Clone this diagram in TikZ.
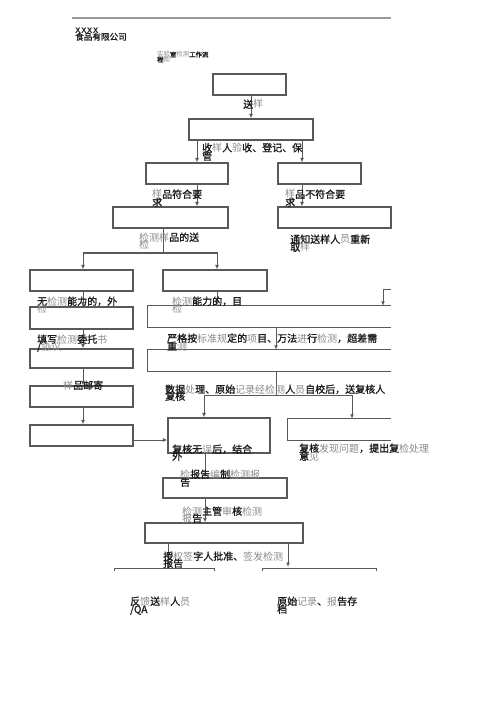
\documentclass[tikz,border=0pt]{standalone}
\usepackage{fontspec}
\newfontfamily\cjk{Noto Sans CJK SC}[AutoFakeBold=1.2]
\usetikzlibrary{arrows.meta,fit}
\definecolor{lc}{HTML}{595959}
\definecolor{txt}{HTML}{1A1A1A}
\definecolor{lgt}{HTML}{8A8A8A}
\newcommand\gy[1]{{\mdseries\color{lgt}#1}}
\tikzset{
  box/.style={draw=lc, line width=1.15pt, inner sep=0pt},
  openbox/.style={inner sep=0pt},
  arr/.style={draw=lc, line width=1pt, -{Latex[length=4.5pt,width=3.8pt]}},
  ln/.style={draw=lc, line width=1pt},
  lbl/.style={anchor=base west, inner sep=0pt, text=txt, font=\cjk\bfseries\fontsize{10pt}{10pt}\selectfont},
  lbls/.style={lbl, font=\cjk\bfseries\fontsize{6.4pt}{6.4pt}\selectfont},
  lblh/.style={lbl, font=\cjk\bfseries\fontsize{8.6pt}{8.6pt}\selectfont},
}
\begin{document}
\begin{tikzpicture}[x=1pt,y=-1pt]
\useasboundingbox[fill=white] (0,0) rectangle (500,708);
% header
\coordinate (hl) at (72,18);
\coordinate (hr) at (391,18);
\draw[draw=gray!80, line width=1.3pt] (hl) -- (hr);
\node[lbl, font=\sffamily\bfseries\fontsize{8pt}{8pt}\selectfont] (hx) at (75,33.5) {XXXX};
\node[lblh] (hc) at (75,40) {食品有限公司};
\node[lbls] (ht1) at (157,57) {\gy{实验}室\gy{检测}工作流};
\node[lbls] (ht2) at (157,62) {程\gy{图}};
% boxes
\node[box, fit={(213,74) (286,95)}] (b1) {};
\node[box, fit={(189,119) (313,140)}] (b2) {};
\node[box, fit={(146,163) (228,184)}] (b3L) {};
\node[box, fit={(278,163) (361,184)}] (b3R) {};
\node[box, fit={(113,207) (228,228)}] (b4L) {};
\node[box, fit={(278,207) (391,228)}] (b4R) {};
\node[box, fit={(30,270) (133,291)}] (b5L) {};
\node[box, fit={(163,270) (267,291)}] (b5R) {};
\node[box, fit={(30,307) (133,329)}] (b6L) {};
\node[box, fit={(30,349) (133,368)}] (b7L) {};
\node[box, fit={(30,386) (133,407)}] (b8L) {};
\node[box, fit={(30,425) (133,446)}] (b9L) {};
\node[openbox, fit={(148,306) (391,327)}] (b6R) {};
\node[openbox, fit={(148,350) (391,371)}] (b7R) {};
\node[box, fit={(168,418) (270,453)}] (b10) {};
\node[openbox, fit={(288,419) (391,440)}] (b10R) {};
\node[box, fit={(163,478) (287,498)}] (b11) {};
\node[box, fit={(145,523) (303,543)}] (b12) {};
\foreach \b in {b6R,b7R,b10R}
  \draw[draw=lc, line width=1.15pt] (\b.north east) -- (\b.north west) -- (\b.south west) -- (\b.south east);
% column coordinates
\coordinate (x83) at (83,0);
\coordinate (x163) at (163,0);
\coordinate (x168) at (168,0);
\coordinate (x197) at (197,0);
\coordinate (x204) at (204,0);
\coordinate (x205) at (205,0);
\coordinate (x217) at (217,0);
\coordinate (x251) at (251,0);
\coordinate (x276) at (276,0);
\coordinate (x288) at (288,0);
\coordinate (x302) at (302,0);
\coordinate (x352) at (352,0);
\coordinate (y253) at (0,253);
\coordinate (y395) at (0,395);
\coordinate (y440) at (0,440);
% connectors
\draw[arr] (b1.south -| x251) -- (b2.north -| x251);
\draw[arr] (b2.south -| x197) -- (b3L.north -| x197);
\draw[arr] (b2.south -| x302) -- (b3R.north -| x302);
\draw[arr] (b3L.south -| x197) -- (b4L.north -| x197);
\draw[arr] (b3R.south -| x302) -- (b4R.north -| x302);
\draw[ln] (b4L.south -| x163) -- (x163 |- y253);
\draw[arr] (x163 |- y253) -- (x83 |- y253) -- (b5L.north -| x83);
\draw[arr] (x163 |- y253) -- (x217 |- y253) -- (b5R.north -| x217);
\draw[arr] (b5L.south -| x83) -- (b6L.north -| x83);
\draw[arr] (b6L.south -| x83) -- (b7L.north -| x83);
\draw[arr] (b7L.south -| x83) -- (b8L.north -| x83);
\draw[arr] (b8L.south -| x83) -- (b9L.north -| x83);
\draw[arr] (b9L.east |- y440) -- (b10.west |- y440);
\draw[arr] (b5R.south -| x217) -- (b6R.north -| x217);
\coordinate (kr) at (391,289);
\coordinate (kx) at (383,0);
\draw[arr] (kr) -- (kx |- kr) -- (b6R.north -| kx);
\draw[arr] (b6R.south -| x276) -- (b7R.north -| x276);
\draw[ln] (b7R.south -| x276) -- (x276 |- y395);
\draw[arr] (x204 |- y395) -- (b10.north -| x204);
\draw[arr] (x204 |- y395) -- (x352 |- y395) -- (b10R.north -| x352);
\draw[arr] (b10.south -| x205) -- (b11.north -| x205);
\draw[arr] (b11.south -| x205) -- (b12.north -| x205);
\draw[ln] (b12.south -| x168) -- (x168 |- 0,568);
\draw[arr] (b12.south -| x288) -- (x288 |- 0,567);
% bottom brackets
\coordinate (bl1) at (114,571); \coordinate (bl2) at (214,571);
\coordinate (br1) at (262,571); \coordinate (br2) at (376,571);
\draw[ln, line width=0.8pt] (bl1) -- ++(0,-3) -| (bl2);
\draw[ln, line width=0.8pt] (br1) -- ++(0,-3) -| (br2);
% labels
\node[lbl] (t1) at (243,108) {送\gy{样}};
\node[lbl] (t2a) at (202,151.5) {收\gy{样}人\gy{验}收、登记、保};
\node[lbl] (t2b) at (202,160) {管};
\node[lbl] (t3a) at (152,198) {\gy{样}品符合要};
\node[lbl] (t3b) at (152,206) {求};
\node[lbl] (t4a) at (285,198) {\gy{样}品不符合要};
\node[lbl] (t4b) at (285,206) {求};
\node[lbl] (t5a) at (139,241) {\gy{检测样}品的送};
\node[lbl] (t5b) at (139,249) {\gy{检}};
\node[lbl] (t6a) at (290,243) {通知送样人\gy{员}重新};
\node[lbl] (t6b) at (290,251) {取\gy{样}};
\node[lbl] (t7a) at (37,305) {无\gy{检测}能力的，外};
\node[lbl] (t7b) at (37,312) {\gy{检}};
\node[lbl] (t8a) at (172,305) {\gy{检测}能力的，目};
\node[lbl] (t8b) at (172,312) {\gy{检}};
\node[lbl] (t9a) at (37,343) {填写\gy{检测}委托\gy{书}};
\node[lbl] (t9b) at (37,350) {/\gy{协议}};
\node[lbl] (t10a) at (167,342) {严格按\gy{标准规}定的\gy{项}目、万法\gy{进}行\gy{检测}，超差需};
\node[lbl] (t10b) at (167,350) {重\gy{测}};
\node[lbl] (t11) at (63,389) {\gy{样}品邮寄};
\node[lbl] (t12a) at (165,393) {数据\gy{处}理、原始\gy{记录经检测}人\gy{员}自校后，送复核人};
\node[lbl] (t12b) at (165,400) {复核};
\node[lbl] (t13a) at (172,453) {复核无\gy{误}后，结合};
\node[lbl] (t13b) at (172,460) {外};
\node[lbl] (t14a) at (299,452) {复核\gy{发现问题}，提出复\gy{检处理}};
\node[lbl] (t14b) at (299,460) {意\gy{见}};
\node[lbl] (t15a) at (180,478) {\gy{检}报告\gy{编}制\gy{检测报}};
\node[lbl] (t15b) at (180,486) {告};
\node[lbl] (t16a) at (182,515) {\gy{检测}主管\gy{审}核\gy{检测}};
\node[lbl] (t16b) at (182,522) {\gy{报}告};
\node[lbl] (t17a) at (163,560) {授\gy{权签}字人批准、\gy{签发检测}};
\node[lbl] (t17b) at (163,567) {报告};
\node[lbl] (t18a) at (130,605) {反\gy{馈}送\gy{样}人\gy{员}};
\node[lbl] (t18b) at (130,613) {/QA};
\node[lbl] (t19a) at (277,605) {原始\gy{记录}、\gy{报}告存};
\node[lbl] (t19b) at (277,613) {档};
\end{tikzpicture}
\end{document}
